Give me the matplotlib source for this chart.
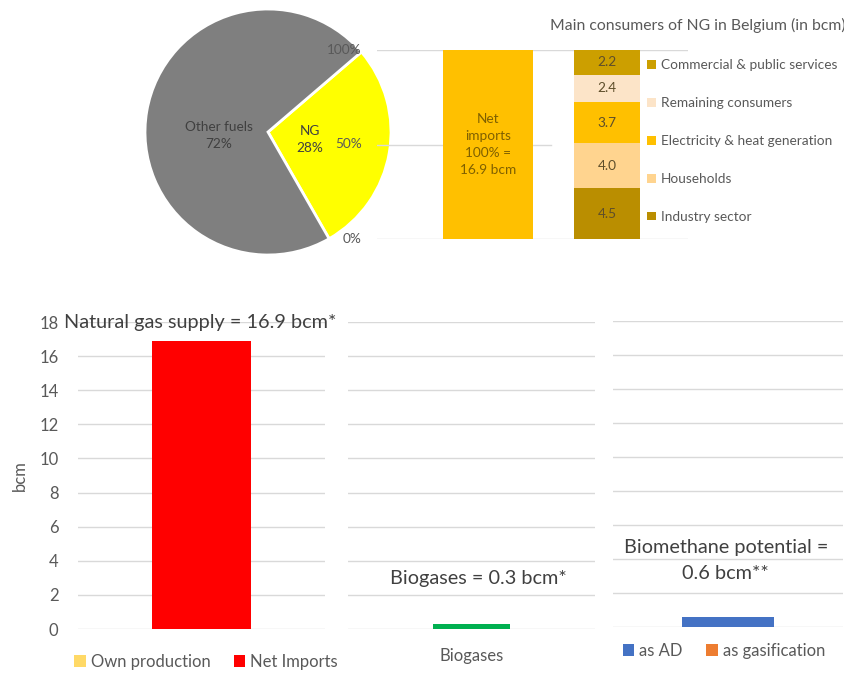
import matplotlib.pyplot as plt

plt.rcParams['font.family'] = ['Lato', 'DejaVu Sans']

W, H = 845, 673

# fuel mix (share of energy use, %)
fuel_labels = ['NG', 'Other fuels']
fuel_shares = [28, 72]
fuel_colors = ['#FFFF00', '#7F7F7F']

# net imports as share of supply (%)
import_share = [100]
import_total = 16.9

# main consumers of NG in Belgium (bcm), bottom to top
consumers = ['Industry sector', 'Households', 'Electricity & heat generation',
             'Remaining consumers', 'Commercial & public services']
consumer_bcm = [4.5, 4.0, 3.7, 2.4, 2.2]
consumer_colors = ['#BA8E00', '#FFD48F', '#FFC000', '#FCE4C8', '#CC9F00']

# supply panels (bcm)
own_production = [0.0]
net_imports = [16.9]
biogases = [0.3]
bio_ad = [0.6]
bio_gasification = [0.0]

yticks = list(range(0, 19, 2))

GRID = '#D9D9D9'
TXT = '#595959'
DARK = '#404040'
SMALL = 9.8
BIG = 14.3


def box(l, t, r, b):
    return [l / W, 1 - b / H, (r - l) / W, (b - t) / H]


fig = plt.figure(figsize=(W / 100, H / 100), dpi=100)

# ---- pie
ax = fig.add_axes(box(145, 9, 391, 255))
ax.pie(fuel_shares, colors=fuel_colors, startangle=40.6,
       counterclock=False, radius=1,
       wedgeprops=dict(edgecolor='white', linewidth=2))
ax.set_xlim(-1, 1)
ax.set_ylim(-1, 1)
ax.set_aspect('equal')
ax.text(0.34, -0.06, f'{fuel_labels[0]}\n{fuel_shares[0]}%', ha='center', va='center',
        fontsize=SMALL, color=DARK, linespacing=1.5)
ax.text(-0.40, -0.03, f'{fuel_labels[1]}\n{fuel_shares[1]}%', ha='center', va='center',
        fontsize=SMALL, color=DARK, linespacing=1.5)

# ---- net imports + consumers
ax = fig.add_axes(box(377, 50, 688, 239))
ax.patch.set_visible(False)
ax.set_xlim(-0.933, 1.68)
ax.set_ylim(0, 100)
ax.bar([0], import_share, width=0.756, color='#FFC000', zorder=2)
ax.text(0, 50, f'Net\nimports\n{import_share[0]}% =\n{import_total} bcm',
        ha='center', va='center', fontsize=SMALL, color='#7F6000', linespacing=1.5, zorder=3)
ax.axhline(0, color=GRID, lw=1, zorder=1)
ax.axhline(100, color=GRID, lw=1, zorder=1)
ax.axhline(50, xmax=0.56, color=GRID, lw=1, zorder=1)
for v in [0, 50, 100]:
    ax.text(-1.06, v, f'{v}%', ha='right', va='center', fontsize=SMALL, color=TXT)
for s in ax.spines.values():
    s.set_visible(False)
ax.set_xticks([])
ax.set_yticks([])

ax2 = ax.twinx()
ax2.patch.set_visible(False)
ax2.set_ylim(0, sum(consumer_bcm))
bottom = 0
handles = []
for name, val, col in zip(consumers, consumer_bcm, consumer_colors):
    b = ax2.bar([1], [val], bottom=bottom, width=0.555, color=col, label=name, zorder=2)
    ax2.text(1, bottom + val / 2, f'{val:.1f}', ha='center', va='center',
             fontsize=SMALL, color='#5E4E2A')
    handles.append(b)
    bottom += val
for s in ax2.spines.values():
    s.set_visible(False)
ax2.set_yticks([])
ax2.legend(handles[::-1], consumers[::-1], loc='upper left',
           bbox_to_anchor=(642 / W, 1 - 54 / H), bbox_transform=fig.transFigure,
           frameon=False, fontsize=SMALL, labelcolor=TXT, handlelength=0.6,
           handleheight=0.6, handletextpad=0.4, labelspacing=1.9, borderaxespad=0)
fig.text(550 / W, 1 - 25 / H, 'Main consumers of NG in Belgium (in bcm)',
         ha='left', va='center', fontsize=11.3, color=TXT)


def panel(rect):
    a = fig.add_axes(rect)
    a.set_ylim(0, 18)
    a.set_xlim(-0.5, 0.5)
    a.set_yticks(yticks)
    a.yaxis.grid(True, color=GRID, lw=1)
    a.set_axisbelow(True)
    for s in a.spines.values():
        s.set_visible(False)
    a.tick_params(length=0, labelsize=12, labelcolor=TXT)
    return a


# ---- natural gas supply
a1 = panel(box(78, 322, 325, 629))
b_own = a1.bar([0], own_production, width=0.4, color='#FFD966')
b_imp = a1.bar([0], net_imports, bottom=own_production, width=0.4, color='#FF0000')
a1.set_xticks([])
a1.tick_params(axis='y', pad=14)
a1.set_ylabel('bcm', fontsize=12, color=TXT, labelpad=8)
a1.text(-0.005, 18, f'Natural gas supply = {net_imports[0]} bcm*', ha='center', va='center',
        fontsize=BIG, color=DARK)
a1.legend([b_own, b_imp], ['Own production', 'Net Imports'], ncol=2, loc='center',
          bbox_to_anchor=(206 / W, 1 - 662 / H), bbox_transform=fig.transFigure,
          frameon=False, fontsize=12, labelcolor=TXT, borderaxespad=0, borderpad=0,
          handlelength=0.7, handleheight=0.7, handletextpad=0.3, columnspacing=1.4)

# ---- biogases
a2 = panel(box(348, 322, 595, 629))
a2.bar([0], biogases, width=0.31, color='#00B050')
a2.set_xticks([0])
a2.set_xticklabels(['Biogases'])
a2.tick_params(axis='x', pad=14)
a2.set_yticklabels([])
a2.text(0.026, 2.95, f'Biogases = {biogases[0]} bcm*', ha='center', va='center',
        fontsize=BIG, color=DARK)

# ---- biomethane potential
a3 = panel(box(613, 321, 843, 627))
b_ad = a3.bar([0], bio_ad, width=0.4, color='#4472C4')
b_gas = a3.bar([0], bio_gasification, bottom=bio_ad, width=0.4, color='#ED7D31')
a3.set_xticks([])
a3.set_yticklabels([])
a3.text(-0.01, 3.9, f'Biomethane potential =\n{sum(bio_ad) + sum(bio_gasification):.1f} bcm**',
        ha='center', va='center', fontsize=BIG, color=DARK, linespacing=1.6)
a3.legend([b_ad, b_gas], ['as AD', 'as gasification'], ncol=2, loc='center',
          bbox_to_anchor=(724 / W, 1 - 651 / H), bbox_transform=fig.transFigure,
          frameon=False, fontsize=12, labelcolor=TXT, borderaxespad=0, borderpad=0,
          handlelength=0.7, handleheight=0.7, handletextpad=0.3, columnspacing=1.4)

fig.savefig('out.png', dpi=100, facecolor='white')
